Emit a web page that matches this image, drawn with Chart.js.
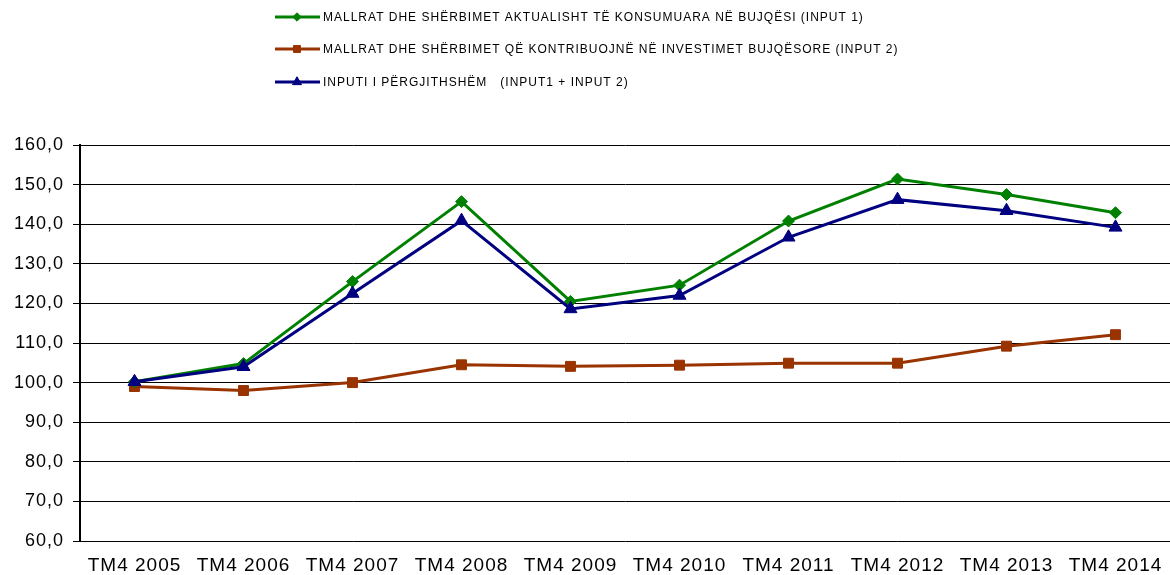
<!DOCTYPE html>
<html>
<head>
<meta charset="utf-8">
<script src="https://cdn.jsdelivr.net/npm/chart.js@4"></script>
<style>
  html, body { margin: 0; padding: 0; background: #fff; }
  #wrap { width: 1170px; height: 575px; position: relative; }
</style>
</head>
<body>
<div id="wrap"><canvas id="c" width="1170" height="575"></canvas></div>
<script>
const categories = ["TM4 2005", "TM4 2006", "TM4 2007", "TM4 2008", "TM4 2009", "TM4 2010", "TM4 2011", "TM4 2012", "TM4 2013", "TM4 2014"];
const input1 = [100.2, 104.8, 125.5, 145.7, 120.5, 124.6, 140.8, 151.4, 147.5, 142.9];
const input2 = [99.0, 98.0, 100.0, 104.5, 104.1, 104.4, 104.9, 104.9, 109.2, 112.1];
const total = [100.2, 104.0, 122.5, 140.9, 118.6, 122.0, 136.7, 146.2, 143.4, 139.2];
const seriesNames = [
  "MALLRAT DHE SHËRBIMET AKTUALISHT TË KONSUMUARA NË BUJQËSI (INPUT 1)",
  "MALLRAT DHE SHËRBIMET QË KONTRIBUOJNË NË INVESTIMET BUJQËSORE (INPUT 2)",
  "INPUTI I PËRGJITHSHËM   (INPUT1 + INPUT 2)"
];
const yTicks = [60, 70, 80, 90, 100, 110, 120, 130, 140, 150, 160];

const FONT = "'Liberation Sans', Arial, sans-serif";

const legendPlugin = {
  id: 'customLegend',
  afterDraw(chart) {
    const ctx = chart.ctx;
    const rows = [17, 49, 82];
    chart.data.datasets.forEach((ds, i) => {
      const y = rows[i];
      ctx.save();
      ctx.strokeStyle = ds.borderColor;
      ctx.lineWidth = 3;
      ctx.beginPath();
      ctx.moveTo(275, y);
      ctx.lineTo(320, y);
      ctx.stroke();
      ctx.fillStyle = ds.pointBackgroundColor;
      ctx.strokeStyle = ds.pointBorderColor;
      ctx.lineWidth = 1;
      Chart.helpers.drawPoint(ctx, { pointStyle: ds.pointStyle, radius: ds.pointRadius * 0.7, rotation: 0, borderWidth: 1 }, 297, y);
      ctx.fillStyle = '#000';
      ctx.font = "12px " + FONT;
      ctx.textBaseline = 'middle';
      ctx.textAlign = 'left';
      try { ctx.letterSpacing = '1px'; } catch (e) {}
      ctx.fillText(ds.label, 323, y + 1);
      ctx.restore();
    });
  }
};

const spacingPlugin = {
  id: 'spacing',
  beforeDraw(chart) {
    try { chart.ctx.letterSpacing = '1px'; } catch (e) {}
  }
};

new Chart(document.getElementById('c'), {
  type: 'line',
  data: {
    labels: categories,
    datasets: [
      {
        label: seriesNames[0], data: input1, order: 2,
        borderColor: '#008000', backgroundColor: '#008000',
        pointBackgroundColor: '#008000', pointBorderColor: '#008000',
        pointStyle: 'rectRot', pointRadius: 6, pointBorderWidth: 1,
        borderWidth: 3, tension: 0, fill: false
      },
      {
        label: seriesNames[1], data: input2, order: 3,
        borderColor: '#993300', backgroundColor: '#993300',
        pointBackgroundColor: '#993300', pointBorderColor: '#993300',
        pointStyle: 'rect', pointRadius: 7, pointBorderWidth: 1,
        borderWidth: 3, tension: 0, fill: false
      },
      {
        label: seriesNames[2], data: total, order: 1,
        borderColor: '#000080', backgroundColor: '#000080',
        pointBackgroundColor: '#000080', pointBorderColor: '#000080',
        pointStyle: 'triangle', pointRadius: 7.5, pointBorderWidth: 1,
        borderWidth: 3, tension: 0, fill: false
      }
    ]
  },
  options: {
    responsive: false,
    animation: false,
    devicePixelRatio: 1,
    layout: { autoPadding: false, padding: { top: 145, right: -4, left: 0, bottom: 0 } },
    plugins: {
      legend: { display: false },
      tooltip: { enabled: false },
      title: { display: false }
    },
    scales: {
      x: {
        offset: true,
        grid: { display: false, drawTicks: false },
        border: { display: false },
        ticks: {
          color: '#000', font: { family: FONT, size: 19 }, padding: 13,
          maxRotation: 0, autoSkip: false
        },
        afterFit(scale) { scale.height = 34; scale.paddingRight = 0; scale.paddingLeft = 0; }
      },
      y: {
        min: 60, max: 160,
        afterBuildTicks(scale) { scale.ticks = yTicks.map(v => ({ value: v })); },
        grid: { color: '#000', lineWidth: 1, drawTicks: true, tickLength: 7, tickColor: '#000' },
        border: { display: true, color: '#000', width: 2 },
        ticks: {
          color: '#000', font: { family: FONT, size: 18 }, padding: 9,
          callback: (v) => v.toFixed(1).replace('.', ',')
        },
        afterFit(scale) { scale.width = 80; }
      }
    }
  },
  plugins: [spacingPlugin, legendPlugin]
});
</script>
</body>
</html>
